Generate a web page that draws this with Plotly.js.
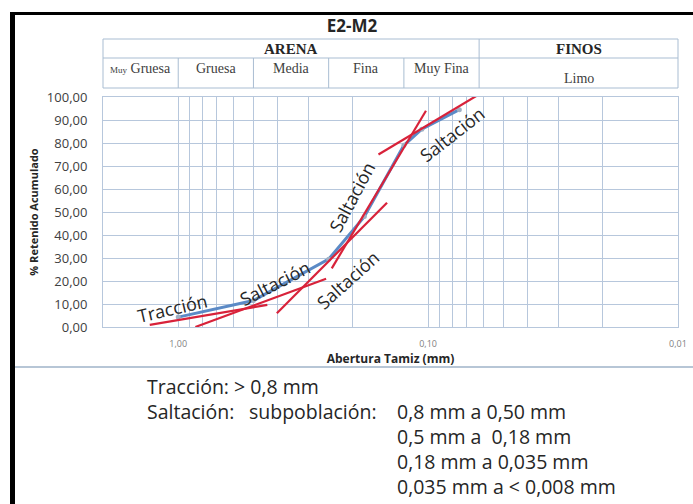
<!DOCTYPE html>
<html>
<head>
<meta charset="utf-8">
<script src="https://cdn.plot.ly/plotly-3.0.1.min.js"></script>
<style>html,body{margin:0;padding:0;background:#fff;}#chart{width:693px;height:504px;}</style>
</head>
<body>
<div id="chart"></div>
<script>
// ---- Data: grain size curve ----
const sieveSizes = [1.0, 0.5, 0.25, 0.18, 0.125, 0.106, 0.075];
const retainedCum = [4.3, 11.5, 29.5, 48, 79, 86, 94.5];

// ---- Hand-drawn tangent segments (sub-populations) ----
const traccionX = [1.30, 0.44];   const traccionY = [0.9, 9.6];
const salt1X = [0.854, 0.256];    const salt1Y = [0, 21];
const salt2X = [0.403, 0.146];    const salt2Y = [6, 54];
const salt3X = [0.243, 0.102];    const salt3Y = [25.5, 94];
const salt4X = [0.158, 0.0629];   const salt4Y = [75, 101];

// ---- Axis ticks ----
const gridVals = [1,0.9,0.8,0.7,0.6,0.5,0.4,0.3,0.2,0.1,0.09,0.08,0.07,0.06,0.05,0.04,0.03,0.02,0.01];
const majorVals = [1, 0.1, 0.01];
const majorText = ['1,00', '0,10', '0,01'];

// ---- Header table (Wentworth classes) ----
const classBounds = [2, 1, 0.5, 0.25, 0.125, 0.0625, 0.01];
const classNames = ['<span style="font-size:9px">Muy</span> Gruesa', 'Gruesa', 'Media', 'Fina', 'Muy Fina', 'Limo'];
const groupNames = ['ARENA', 'FINOS'];
const groupBounds = [[2, 0.0625], [0.0625, 0.01]];

// ---- Labels on the curve ----
const labelText = ['Tracción', 'Saltación', 'Saltación', 'Saltación', 'Saltación'];
const labelX = [1.05, 0.41, 0.21, 0.202, 0.08];
const labelY = [8.3, 19.1, 20.4, 56.5, 83.9];
const labelAngle = [-13, -27, -42, -62, -38];

// ---- Notes below ----
const notes = [
  {t:'Tracción: > 0,8 mm', px:145, py:386},
  {t:'Saltación:', px:145, py:411},
  {t:'subpoblación:', px:247, py:411},
  {t:'0,8 mm a 0,50 mm', px:395, py:411},
  {t:'0,5 mm a  0,18 mm', px:395, py:436},
  {t:'0,18 mm a 0,035 mm', px:395, py:461},
  {t:'0,035 mm a < 0,008 mm', px:395, py:486}
];

// geometry (pixels)
const W = 693, H = 504, L = 103, R = 15, T = 39, B = 177;
const PW = W - L - R, PH = H - T - B;          // paper area: x 103..678, y 39..327
const plotTop = 97, tableBot = 88, tableMid = 58;
const px2x = p => (p - L) / PW;
const py2y = p => (H - B - p) / PH;

const gridColor = '#b7c7dc';
const redColor = '#d8223a';
const font = 'Open Sans, sans-serif';
const serif = 'Liberation Serif, Times New Roman, serif';
const lg = Math.log10;

const redSeg = (x, y) => ({x: x, y: y, type: 'scatter', mode: 'lines',
  line: {color: redColor, width: 2.2}, hoverinfo: 'skip', showlegend: false});

const traces = [
  {x: sieveSizes, y: retainedCum, type: 'scatter', mode: 'lines+markers',
   line: {color: '#5b8ac6', width: 3}, marker: {color: '#9fb0c4', size: 5},
   showlegend: false, name: 'E2-M2'},
  redSeg(traccionX, traccionY), redSeg(salt1X, salt1Y), redSeg(salt2X, salt2Y),
  redSeg(salt3X, salt3Y), redSeg(salt4X, salt4Y)
];

const shapes = [];
const annotations = [];
const tableLine = {color: '#a9bdd2', width: 1};
// table: y2 axis 0 (bottom, 88px) .. 1 (top, 39px)
const rowMid = (tableBot - tableMid) / (tableBot - T);
shapes.push({type:'rect', xref:'paper', yref:'paper', x0:0, x1:1, y0:py2y(tableBot), y1:1, line:tableLine});
shapes.push({type:'line', xref:'paper', yref:'y2', x0:0, x1:1, y0:rowMid, y1:rowMid, line:tableLine});
for (let i = 1; i < classBounds.length - 1; i++) {
  const top = (classBounds[i] === 0.0625) ? 1 : rowMid;
  shapes.push({type:'line', xref:'x2', yref:'y2', x0:classBounds[i], x1:classBounds[i], y0:0, y1:top, line:tableLine});
}
for (let i = 0; i < classNames.length; i++) {
  const cx = (lg(classBounds[i]) + lg(classBounds[i+1])) / 2;
  const py = (i === 5) ? 78 : 68.5;
  annotations.push({xref:'x2', yref:'y2', x:cx, y:(tableBot - py) / (tableBot - T), text: classNames[i],
    showarrow:false, xanchor:'center', yanchor:'middle', font:{family:serif, size:14, color:'#404040'}});
}
groupNames.forEach((g, i) => {
  annotations.push({xref:'x2', yref:'y2', x:(lg(groupBounds[i][0]) + lg(groupBounds[i][1])) / 2,
    y:(tableBot - 48.5) / (tableBot - T), text:'<b>' + g + '</b>',
    showarrow:false, xanchor:'center', yanchor:'middle', font:{family:serif, size:15, color:'#262626'}});
});

// curve labels
for (let i = 0; i < labelText.length; i++) {
  annotations.push({xref:'x', yref:'y', x:lg(labelX[i]), y:labelY[i], text:labelText[i], textangle:labelAngle[i],
    showarrow:false, xanchor:'center', yanchor:'middle', font:{family:font, size:18, color:'#262626'}});
}
// notes
notes.forEach(n => annotations.push({xref:'paper', yref:'paper', x:px2x(n.px), y:py2y(n.py), text:n.t,
  showarrow:false, xanchor:'left', yanchor:'middle', font:{family:font, size:19.5, color:'#262626'}}));

// frame: black edge left & top, light line at chart bottom
shapes.push({type:'rect', xref:'paper', yref:'paper', x0:px2x(10), x1:px2x(15), y0:py2y(520), y1:py2y(12), fillcolor:'#000', line:{width:0}});
shapes.push({type:'rect', xref:'paper', yref:'paper', x0:px2x(10), x1:px2x(700), y0:py2y(15), y1:py2y(12), fillcolor:'#000', line:{width:0}});
shapes.push({type:'line', xref:'paper', yref:'paper', x0:px2x(15), x1:px2x(700), y0:py2y(367), y1:py2y(367), line:{color:'#9fb3c8', width:1.5}});

const mainTop = py2y(plotTop);
const layout = {
  width: W, height: H,
  margin: {l: L, r: R, t: T, b: B, pad: 0},
  paper_bgcolor: '#fff', plot_bgcolor: '#fff',
  separators: ',.',
  showlegend: false,
  title: {text: '<b>E2-M2</b>', x: 352 / W, xref: 'container', xanchor: 'center',
          y: 1 - 26 / H, yref: 'container', yanchor: 'middle',
          font: {family: font, size: 17, color: '#262626'}},
  xaxis: {type: 'log', range: [lg(2), -2], tickmode: 'array', tickvals: gridVals,
          ticktext: gridVals.map(v => { const k = majorVals.indexOf(v); return k >= 0 ? majorText[k] : ''; }),
          showgrid: true, gridcolor: gridColor, gridwidth: 1, zeroline: false,
          showline: true, linecolor: gridColor, mirror: true,
          ticks: 'outside', ticklen: 8, tickcolor: 'rgba(0,0,0,0)',
          tickfont: {family: font, size: 9, color: '#7f7f7f'},
          title: {text: '<b>Abertura Tamiz (mm)</b>', standoff: 0, font: {family: font, size: 12, color: '#262626'}},
          automargin: false, fixedrange: true, anchor: 'y'},
  yaxis: {domain: [0, mainTop], range: [0, 100], dtick: 10, tick0: 0, tickformat: '.2f',
          showgrid: true, gridcolor: gridColor, gridwidth: 1, zeroline: false,
          showline: true, linecolor: gridColor, mirror: true,
          ticks: 'outside', ticklen: 12, tickcolor: 'rgba(0,0,0,0)',
          tickfont: {family: font, size: 13, color: '#404040'},
          title: {text: '<b>% Retenido Acumulado</b>', standoff: 6, font: {family: font, size: 11, color: '#262626'}},
          automargin: false, fixedrange: true, anchor: 'x'},
  xaxis2: {type: 'log', matches: 'x', anchor: 'y2', showgrid: false, zeroline: false, showline: false,
           showticklabels: false, ticks: '', fixedrange: true},
  yaxis2: {domain: [py2y(tableBot), 1], range: [0, 1], anchor: 'x2', showgrid: false, zeroline: false,
           showline: false, showticklabels: false, ticks: '', fixedrange: true},
  shapes: shapes,
  annotations: annotations
};

// an invisible trace to give the header subplot its axes
traces.push({x: [classBounds[0]], y: [0], xaxis: 'x2', yaxis: 'y2', type: 'scatter', mode: 'markers',
  marker: {opacity: 0}, hoverinfo: 'skip', showlegend: false});

Plotly.newPlot('chart', traces, layout, {displayModeBar: false, staticPlot: true});
</script>
</body>
</html>
